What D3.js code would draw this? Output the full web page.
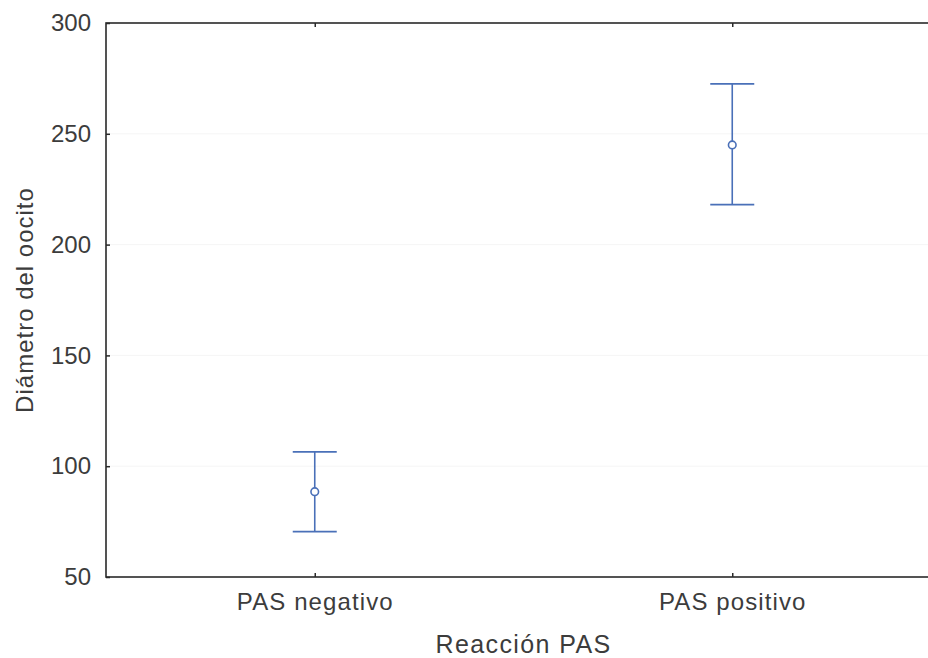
<!DOCTYPE html>
<html>
<head>
<meta charset="utf-8">
<script src="https://cdn.jsdelivr.net/npm/d3@7"></script>
<style>
  body { margin: 0; background: #fff; }
  text { font-family: "Liberation Sans", Arial, sans-serif; fill: #3c3c3c; }
</style>
</head>
<body>
<svg id="chart" width="928" height="658"></svg>
<script>
// datos
const categories = ["PAS negativo", "PAS positivo"];
const means = [88.5, 245];
const upper = [106.5, 272.5];
const lower = [70.5, 218];
const yTicks = [50, 100, 150, 200, 250, 300];

const svg = d3.select("#chart");
const margin = { left: 106, top: 23, right: -13, bottom: 81 };
const width = 928 - margin.left - margin.right;
const height = 658 - margin.top - margin.bottom;

const g = svg.append("g").attr("transform", `translate(${margin.left},${margin.top})`);

const x = d3.scalePoint().domain(categories).range([0, width]).padding(0.5);
const y = d3.scaleLinear().domain([50, 300]).range([height, 0]);

const axisColor = "#2a2a2a";
const blue = "#4a70b8";

// rejilla tenue
g.append("g").selectAll("line").data(yTicks.slice(1, -1)).join("line")
  .attr("x1", 0).attr("x2", width)
  .attr("y1", d => y(d)).attr("y2", d => y(d))
  .attr("stroke", "#f5f5f5").attr("stroke-width", 1);

// marco
g.append("rect").attr("x", 0).attr("y", 0).attr("width", width).attr("height", height)
  .attr("fill", "none").attr("stroke", axisColor).attr("stroke-width", 1.6);

// eje y
const yAxis = g.append("g").call(d3.axisLeft(y).tickValues(yTicks).tickSize(-4).tickPadding(15));
yAxis.select(".domain").remove();
yAxis.selectAll(".tick line").attr("stroke", axisColor).attr("stroke-width", 1.5);
yAxis.selectAll(".tick text").attr("font-size", 24).attr("fill", "#3c3c3c");

// eje x (abajo + marcas arriba)
const xAxis = g.append("g").attr("transform", `translate(0,${height})`)
  .call(d3.axisBottom(x).tickSize(-4).tickPadding(16));
xAxis.select(".domain").remove();
xAxis.selectAll(".tick line").attr("stroke", axisColor).attr("stroke-width", 1.5);
xAxis.selectAll(".tick text").attr("font-size", 24).attr("letter-spacing", 1.1).attr("fill", "#3c3c3c");

const xTop = g.append("g").call(d3.axisTop(x).tickSize(-4).tickFormat(""));
xTop.select(".domain").remove();
xTop.selectAll(".tick line").attr("stroke", axisColor).attr("stroke-width", 1.5);

// barras de error
const data = categories.map((c, i) => ({ c, m: means[i], hi: upper[i], lo: lower[i] }));
const capW = 22;
const eb = g.append("g").selectAll("g").data(data).join("g")
  .attr("transform", d => `translate(${x(d.c)},0)`);
eb.append("line").attr("x1", 0).attr("x2", 0)
  .attr("y1", d => y(d.hi)).attr("y2", d => y(d.lo))
  .attr("stroke", blue).attr("stroke-width", 1.6);
eb.append("line").attr("x1", -capW).attr("x2", capW)
  .attr("y1", d => y(d.hi)).attr("y2", d => y(d.hi))
  .attr("stroke", blue).attr("stroke-width", 1.8);
eb.append("line").attr("x1", -capW).attr("x2", capW)
  .attr("y1", d => y(d.lo)).attr("y2", d => y(d.lo))
  .attr("stroke", blue).attr("stroke-width", 1.8);
eb.append("circle").attr("cx", 0).attr("cy", d => y(d.m)).attr("r", 3.8)
  .attr("fill", "#fff").attr("stroke", blue).attr("stroke-width", 1.6);

// títulos
g.append("text").attr("x", width / 2).attr("y", height + 76)
  .attr("text-anchor", "middle").attr("font-size", 25).attr("letter-spacing", 1.4)
  .text("Reacción PAS");
svg.append("text").attr("transform", `translate(33,${margin.top + height / 2}) rotate(-90)`)
  .attr("text-anchor", "middle").attr("font-size", 24).attr("letter-spacing", 1)
  .text("Diámetro del oocito");
</script>
</body>
</html>
